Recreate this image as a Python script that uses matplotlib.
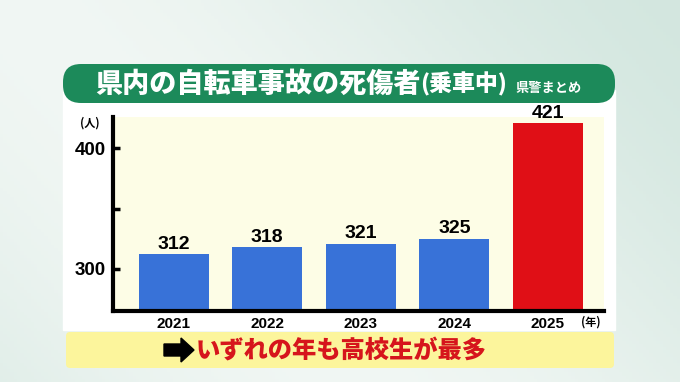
import numpy as np
import matplotlib.pyplot as plt
from matplotlib.patches import FancyBboxPatch, Rectangle, FancyArrow

plt.rcParams['font.family'] = ['Noto Sans CJK JP', 'DejaVu Sans']

# データ
years = ['2021', '2022', '2023', '2024', '2025']
counts = [312, 318, 321, 325, 421]
colors = ['#3872d8', '#3872d8', '#3872d8', '#3872d8', '#e00f16']
yticks = [300, 350, 400]
yticklabels = ['300', '', '400']

W, H = 680, 382
fig = plt.figure(figsize=(W / 100, H / 100), dpi=100)

# 背景 (グラデーション)
bg = fig.add_axes([0, 0, 1, 1], zorder=0)
bg.set_axis_off()
gx = np.linspace(0, 1, 200)
gy = np.linspace(0, 1, 120)
X, Y = np.meshgrid(gx, gy)
base = np.array([0.82, 0.90, 0.87])
light = np.array([0.95, 0.97, 0.96])
t = np.clip(0.5 + 0.45 * np.sin(3.0 * X + 1.5 * Y), 0, 1)[..., None]
img = base * (1 - t) + light * t
bg.imshow(img, extent=[0, W, 0, H], aspect='auto', origin='lower')
bg.set_xlim(0, W)
bg.set_ylim(0, H)

# 白パネル
bg.add_patch(Rectangle((63, H - 330), 552, 240, color='white', zorder=1))
# タイトルバー
bg.add_patch(FancyBboxPatch((63, H - 103), 552, 39,
                            boxstyle='round,pad=0,rounding_size=18',
                            fc='#1c8a5a', ec='none', zorder=2))
bg.text(95, H - 84, '県内の自転車事故の死傷者', color='white', fontsize=19.5,
        fontweight='heavy', va='center', ha='left', zorder=3)
bg.text(420, H - 84, '(乗車中)', color='white', fontsize=16.5,
        fontweight='heavy', va='center', ha='left', zorder=3)
bg.text(516, H - 88, '県警まとめ', color='white', fontsize=9.5,
        fontweight='bold', va='center', ha='left', zorder=3)

# 下のバナー
bg.add_patch(FancyBboxPatch((66, H - 368), 548, 36,
                            boxstyle='round,pad=0,rounding_size=4',
                            fc='#fcf59c', ec='none', zorder=2))
bg.add_patch(FancyArrow(164, H - 350, 17, 0, width=12, head_width=24,
                        head_length=13, length_includes_head=False,
                        fc='black', ec='black', zorder=3))
bg.text(341, H - 350, 'いずれの年も高校生が最多', color='#d6151c', fontsize=17.5,
        fontweight='heavy', va='center', ha='center', zorder=3)

# 棒グラフ
ax = fig.add_axes([113 / W, (H - 311) / H, (604 - 113) / W, (311 - 117) / H], zorder=2)
ax.set_facecolor('#fdfde6')
x = np.arange(len(years))
ax.bar(x, counts, width=0.75, color=colors, zorder=2)
for xi, v in zip(x, counts):
    ax.text(xi, v + 1.2, str(v), ha='center', va='bottom', fontsize=14,
            fontweight='bold', family=['Liberation Sans'])

ax.set_xlim(-0.65, 4.6)
ax.set_ylim(265, 426)
ax.set_yticks(yticks)
ax.set_yticklabels(yticklabels, fontsize=13.5, fontweight='bold', family=['Liberation Sans'])
ax.set_xticks(x)
ax.set_xticklabels(years, fontsize=11, fontweight='bold', family=['Liberation Sans'])
ax.tick_params(axis='y', length=5, width=2.5, direction='in', pad=5)
ax.tick_params(axis='x', length=0, pad=4)
for s in ['top', 'right']:
    ax.spines[s].set_visible(False)
for s in ['left', 'bottom']:
    ax.spines[s].set_linewidth(3)

fig.text(90 / W, (H - 123) / H, '(人)', fontsize=8, fontweight='bold', ha='center', va='center')
fig.text(591 / W, (H - 322) / H, '(年)', fontsize=8, fontweight='bold', ha='center', va='center')

fig.savefig('out.png', dpi=100)
